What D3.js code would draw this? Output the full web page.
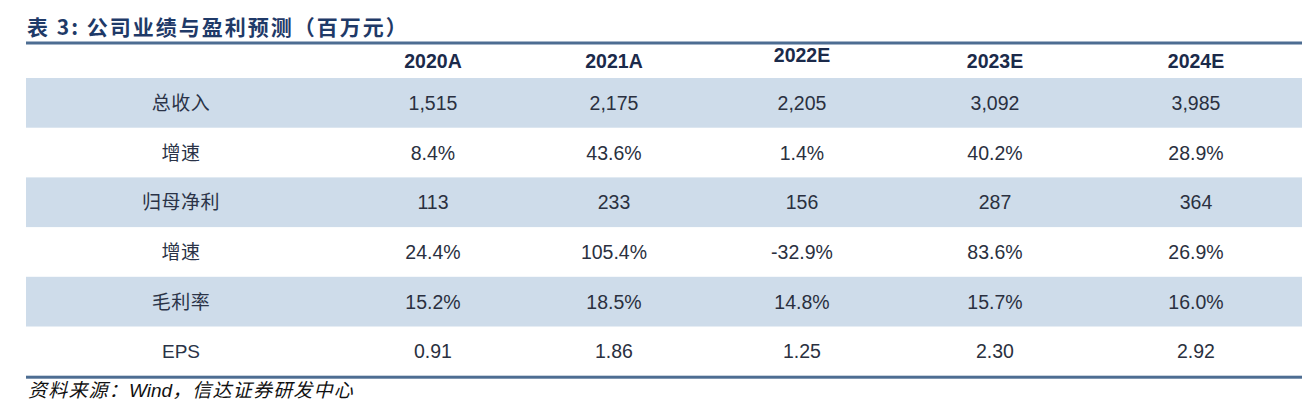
<!DOCTYPE html>
<html><head><meta charset="utf-8">
<script src="https://cdn.jsdelivr.net/npm/d3@7"></script>
<style>body{margin:0;background:#fff;}</style>
</head><body>
<svg id="c" width="1308" height="414"></svg>
<script>
const title = "表 3: 公司业绩与盈利预测（百万元）";
const source = "资料来源：Wind，信达证券研发中心";
const years = ["2020A","2021A","2022E","2023E","2024E"];
const rowLabels = ["总收入","增速","归母净利","增速","毛利率","EPS"];
const revenue = ["1,515","2,175","2,205","3,092","3,985"];
const revenueGrowth = ["8.4%","43.6%","1.4%","40.2%","28.9%"];
const netProfit = ["113","233","156","287","364"];
const profitGrowth = ["24.4%","105.4%","-32.9%","83.6%","26.9%"];
const grossMargin = ["15.2%","18.5%","14.8%","15.7%","16.0%"];
const eps = ["0.91","1.86","1.25","2.30","2.92"];
const rows = [revenue, revenueGrowth, netProfit, profitGrowth, grossMargin, eps];

const svg = d3.select("#c");
const left = 26, right = 1302;
const colCenters = [181, 433, 614, 802, 995, 1196];
const rowTop = 78, rowH = 49.7;

const y = d3.scaleLinear().domain([0, rows.length]).range([rowTop, rowTop + rowH * rows.length]);

// title
svg.append("text").attr("x", 27).attr("y", 35)
  .attr("font-family", "'Noto Sans CJK SC'").attr("font-weight", "bold")
  .attr("font-size", 21).attr("letter-spacing", 2.0).attr("fill", "#1f3a68").text(title);

// shaded bands
svg.selectAll("rect.band").data(rows.map((r,i)=>i).filter(i=>i%2===0)).enter()
  .append("rect").attr("x", left).attr("width", right - left)
  .attr("y", d => y(d)).attr("height", d => y(d+1) - y(d))
  .attr("fill", "#cedcea");

// lines
svg.append("rect").attr("x", left).attr("y", 41.5).attr("width", right-left).attr("height", 3).attr("fill", "#4d6d92");
svg.append("rect").attr("x", left).attr("y", y(rows.length)-0.5).attr("width", right-left).attr("height", 3).attr("fill", "#4d6d92");

// headers
const headerY = [68, 68, 62, 68, 68];
svg.selectAll("text.hdr").data(years).enter().append("text")
  .attr("x", (d,i)=>colCenters[i+1]).attr("y", (d,i)=>headerY[i])
  .attr("text-anchor","middle").attr("font-family","'Liberation Sans', Arial")
  .attr("font-weight","bold").attr("font-size",19.5).attr("fill","#1b2a4a").text(d=>d);

// row labels
svg.selectAll("text.lbl").data(rowLabels).enter().append("text")
  .attr("x", colCenters[0]).attr("y", (d,i)=> (y(i)+y(i+1))/2 + 7)
  .attr("text-anchor","middle")
  .attr("font-family", (d)=> d==="EPS" ? "'Liberation Sans', Arial" : "'Noto Sans CJK SC'")
  .attr("font-size", 19).attr("letter-spacing", d => d==="EPS" ? 0 : 0.5)
  .attr("fill","#2a3347").text(d=>d);

// cells
rows.forEach((r, ri) => {
  svg.selectAll("text.r"+ri).data(r).enter().append("text")
    .attr("x", (d,i)=>colCenters[i+1]).attr("y", (y(ri)+y(ri+1))/2 + 7)
    .attr("text-anchor","middle").attr("font-family","'Liberation Sans', Arial")
    .attr("font-size",19.5).attr("fill","#2a3040").text(d=>d);
});

// source
const src = svg.append("text").attr("x", 28).attr("y", 397)
  .attr("font-size", 19).attr("letter-spacing", 1.2).attr("fill", "#111");
src.append("tspan").attr("font-family","'Noto Sans CJK SC'").attr("font-style","italic").text("资料来源：");
src.append("tspan").attr("font-family","'Liberation Sans', Arial").attr("font-style","italic").attr("letter-spacing",0).text("Wind");
src.append("tspan").attr("font-family","'Noto Sans CJK SC'").attr("font-style","italic").text("，信达证券研发中心");
</script>
</body></html>
